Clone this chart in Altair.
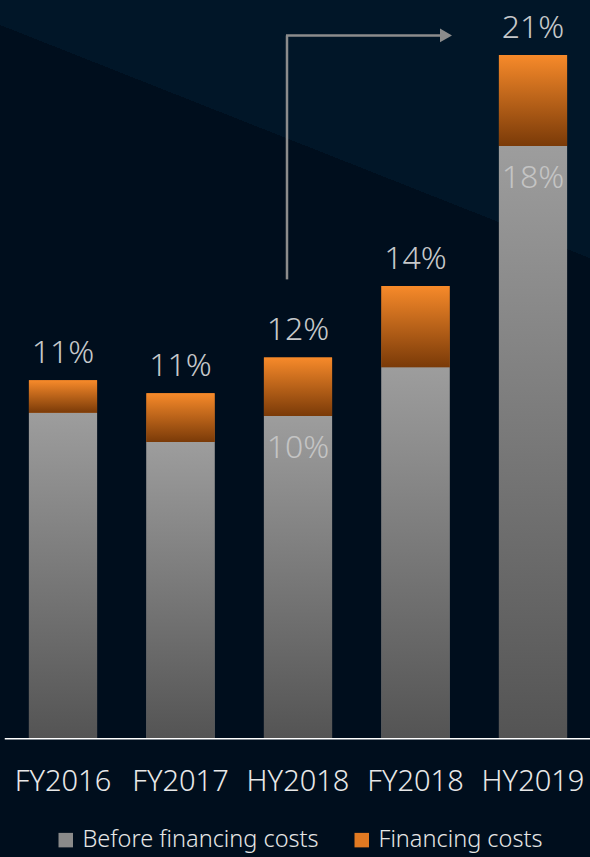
import altair as alt
import pandas as pd

periods = ["FY2016", "FY2017", "HY2018", "FY2018", "HY2019"]
before = [10.0, 9.1, 9.9, 11.4, 18.2]
financing = [1.0, 1.5, 1.8, 2.5, 2.8]
total_labels = ["11%", "11%", "12%", "14%", "21%"]
inner_labels = ["", "", "10%", "", "18%"]
series = ["Before financing costs", "Financing costs"]
series_colors = ["#8a8a8a", "#e27a22"]
arrow_y = [14.1, 21.6]

df = pd.DataFrame({
    "period": periods,
    "before": before,
    "financing": financing,
    "total_label": total_labels,
    "inner_label": inner_labels,
})
df["total"] = df["before"] + df["financing"]

FONT = "Noto Sans"
WEIGHT = 300

x_enc = alt.X(
    "period:N",
    sort=periods,
    scale=alt.Scale(range=[4.25, 591.75], paddingInner=0.42, paddingOuter=0.21),
    axis=alt.Axis(
        title=None, labelAngle=0, ticks=False, domainColor="#ffffff", domainWidth=2,
        labelColor="#e8e8e8", labelFontSize=29, labelFont=FONT, labelFontWeight=WEIGHT,
        labelPadding=52, labelBaseline="alphabetic",
    ),
)
y_scale = alt.Scale(domain=[0, 22.69], nice=False, zero=True)

base = alt.Chart(df)
one = alt.Data(values=[{"a": 0}])

view_grad = alt.LinearGradient(
    gradient="linear", x1=0.4526, y1=0.3418, x2=0.5474, y2=0.0418,
    stops=[
        alt.GradientStop(offset=0, color="#000e1d"),
        alt.GradientStop(offset=0.5, color="#000e1d"),
        alt.GradientStop(offset=0.5, color="#011628"),
        alt.GradientStop(offset=1, color="#011628"),
    ],
)
bg = alt.Chart(one).mark_rect(fill=view_grad).encode(
    x=alt.value(0), x2=alt.value(590), y=alt.value(0), y2=alt.value(738)
)

# hidden stacked layer that carries the legend
legend_layer = base.transform_fold(["before", "financing"], as_=["key", "value"]).transform_calculate(
    series=f"datum.key == 'before' ? '{series[0]}' : '{series[1]}'"
).mark_bar().encode(
    x=x_enc,
    y=alt.Y("value:Q", stack="zero", scale=y_scale, axis=None),
    color=alt.Color(
        "series:N",
        scale=alt.Scale(domain=series, range=series_colors),
        legend=alt.Legend(
            title=None, orient="none", legendX=54, legendY=828, direction="horizontal",
            symbolType="square", symbolSize=210, symbolStrokeWidth=0, symbolOpacity=1,
            labelFontSize=23.5, labelColor="#e6e6e6", labelFont=FONT, labelFontWeight=WEIGHT,
            labelOffset=5, columnPadding=31, padding=0, labelLimit=400,
        ),
    ),
    order=alt.Order("key:N"),
)

gray_grad = alt.LinearGradient(
    gradient="linear", x1=0, y1=0, x2=0, y2=1,
    stops=[alt.GradientStop(offset=0, color="#9d9d9d"), alt.GradientStop(offset=1, color="#545454")],
)
orange_grad = alt.LinearGradient(
    gradient="linear", x1=0, y1=0, x2=0, y2=1,
    stops=[alt.GradientStop(offset=0, color="#f78a2a"), alt.GradientStop(offset=1, color="#7a3a08")],
)

before_bars = base.mark_bar(fill=gray_grad).encode(
    x=x_enc, y=alt.Y("before:Q", scale=y_scale, axis=None), y2=alt.datum(0)
)
fin_bars = base.mark_bar(fill=orange_grad).encode(
    x=x_enc, y=alt.Y("before:Q", scale=y_scale, axis=None), y2="total:Q"
)

top_text = base.mark_text(
    dy=-17, baseline="alphabetic", fontSize=32, color="#c6c8ca", font=FONT, fontWeight=WEIGHT
).encode(x=x_enc, y=alt.Y("total:Q", scale=y_scale, axis=None), text="total_label:N")

inner_text = base.mark_text(
    dy=42, baseline="alphabetic", fontSize=32, color="#c4c4c4", font=FONT, fontWeight=WEIGHT
).encode(x=x_enc, y=alt.Y("before:Q", scale=y_scale, axis=None), text="inner_label:N")

arrow_color = "#8c8c8c"
arrow_v = alt.Chart(one).mark_rule(color=arrow_color, strokeWidth=2.5).encode(
    x=alt.value(287), y=alt.datum(arrow_y[0], type="quantitative", scale=y_scale, axis=None),
    y2=alt.datum(arrow_y[1]),
)
arrow_h = alt.Chart(one).mark_rule(color=arrow_color, strokeWidth=2.5).encode(
    x=alt.value(286), x2=alt.value(442),
    y=alt.datum(arrow_y[1], type="quantitative", scale=y_scale, axis=None),
)
arrow_head = alt.Chart(one).mark_point(
    shape="triangle-right", filled=True, size=190, color=arrow_color, opacity=1
).encode(
    x=alt.value(446), y=alt.datum(arrow_y[1], type="quantitative", scale=y_scale, axis=None),
)

chart = alt.layer(
    bg, legend_layer, before_bars, fin_bars, top_text, inner_text, arrow_v, arrow_h, arrow_head
).properties(
    width=590, height=738, autosize=alt.AutoSizeParams(type="none"),
    padding={"left": 0, "top": 0, "right": 0, "bottom": 119},
    background="#000e1d",
).configure_view(stroke=None)

chart.save("out.html", embed_options={"renderer": "svg", "actions": False})
